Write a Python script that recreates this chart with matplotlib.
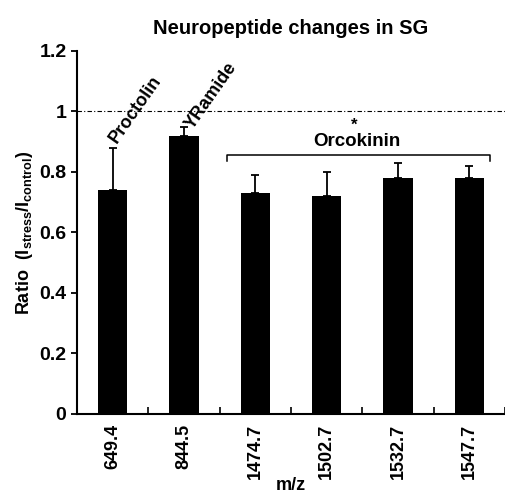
import numpy as np
import matplotlib.pyplot as plt

plt.rcParams['font.family'] = ['Liberation Sans', 'DejaVu Sans']
plt.rcParams['font.weight'] = 'bold'
plt.rcParams['mathtext.fontset'] = 'custom'
plt.rcParams['mathtext.rm'] = 'Liberation Sans:bold'
plt.rcParams['mathtext.it'] = 'Liberation Sans:bold'
plt.rcParams['mathtext.bf'] = 'Liberation Sans:bold'

# data
mz = ['649.4', '844.5', '1474.7', '1502.7', '1532.7', '1547.7']
ratio = [0.74, 0.92, 0.73, 0.72, 0.78, 0.78]
err_up = [0.14, 0.03, 0.06, 0.08, 0.05, 0.04]

x = np.arange(len(mz))

fig = plt.figure(figsize=(5.06, 4.94), dpi=100)
ax = fig.add_axes([0.152, 0.162, 0.846, 0.735])

ax.bar(x, ratio, width=0.41, color='black')
ax.errorbar(x, ratio, yerr=[np.zeros(len(x)), err_up], fmt='none',
            ecolor='black', elinewidth=1.3, capsize=3, capthick=1.3)

# reference line at ratio 1
ax.axhline(1.0, color='black', lw=0.8, ls=(0, (4, 2, 1, 2)), clip_on=False)

ax.set_xlim(-0.5, 5.5)
ax.set_ylim(0, 1.2)
ax.set_yticks([0, 0.2, 0.4, 0.6, 0.8, 1.0, 1.2])
ax.set_yticklabels(['0', '0.2', '0.4', '0.6', '0.8', '1', '1.2'])
ax.set_xticks(x)
ax.set_xticklabels(mz, rotation=90)
ax.set_xticks(np.arange(0.5, 6, 1), minor=True)
ax.tick_params(axis='x', which='major', length=0, pad=7, labelsize=13)
ax.tick_params(axis='x', which='minor', direction='in', length=5, width=1.2)
ax.tick_params(axis='y', direction='out', length=4, width=1.3, labelsize=14)

for s in ['top', 'right']:
    ax.spines[s].set_visible(False)
for s in ['left', 'bottom']:
    ax.spines[s].set_linewidth(1.5)

ax.set_title('Neuropeptide changes in SG', fontsize=14.5, fontweight='bold', pad=12)
ax.set_xlabel('m/z', fontsize=13, fontweight='bold')
ax.xaxis.set_label_coords(0.575, 0.008, transform=fig.transFigure)
ax.xaxis.label.set_va('baseline')
ax.set_ylabel(r'Ratio  (I$_{\mathrm{stress}}$/I$_{\mathrm{control}}$)',
              fontsize=13, fontweight='bold', labelpad=3)

# peptide names
ax.text(0.10, 0.885, 'Proctolin', rotation=55, fontsize=13, fontweight='bold',
        ha='left', va='bottom', rotation_mode='anchor')
ax.text(1.17, 0.93, 'YRamide', rotation=55, fontsize=13, fontweight='bold',
        ha='left', va='bottom', rotation_mode='anchor')

# orcokinin bracket
bx0, bx1, by = 1.61, 5.29, 0.857
ax.plot([bx0, bx0, bx1, bx1], [by - 0.022, by, by, by - 0.022], color='black', lw=1.1)
ax.text(3.42, by + 0.017, 'Orcokinin', ha='center', va='bottom', fontsize=13.5, fontweight='bold')
ax.text(3.38, by + 0.072, '*', ha='center', va='bottom', fontsize=12, fontweight='bold')

fig.savefig('out.png', dpi=100)
